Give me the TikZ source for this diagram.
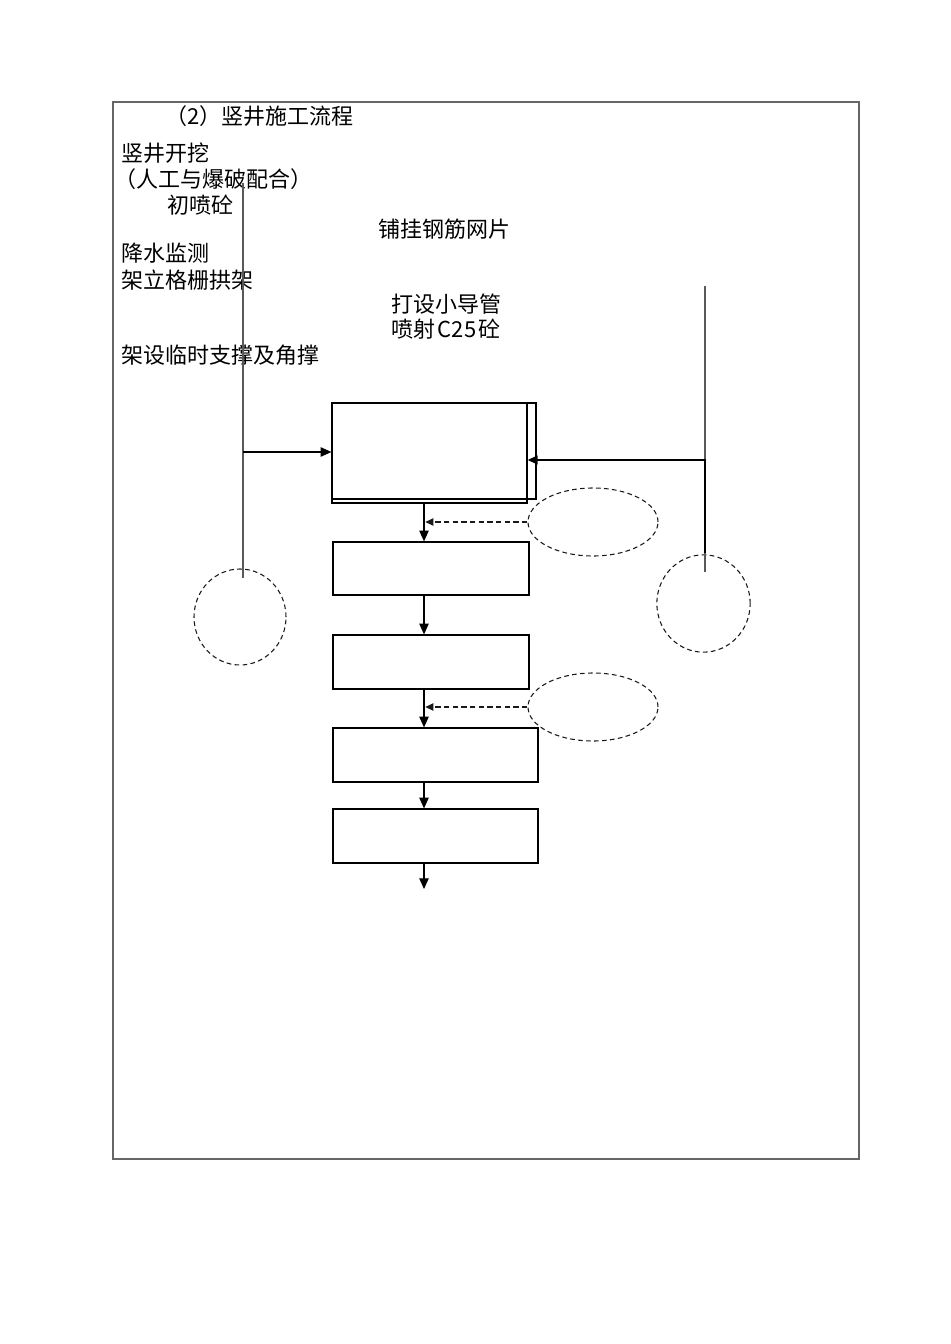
\documentclass[tikz,border=0pt]{standalone}
\usepackage{fontspec}
\setmainfont{Noto Sans CJK SC}
\usetikzlibrary{arrows.meta,fit,shapes.geometric}
\begin{document}
\begin{tikzpicture}[x=0.75pt,y=-0.75pt,
  txt/.style={anchor=west,inner sep=0pt,font=\fontsize{16.5}{18}\selectfont},
  frame/.style={draw=black!60,line width=0.8pt,inner sep=0pt},
  flowbox/.style={draw=black,line width=0.9pt,inner sep=0pt},
  thinline/.style={draw=black!65,line width=0.8pt},
  flow/.style={draw=black,line width=0.9pt,-{Triangle[length=8pt,width=7pt]}},
  thickflow/.style={draw=black,line width=1.4pt,-{Triangle[length=7.5pt,width=6.5pt]}},
  dflow/.style={draw=black!90,line width=0.9pt,dash pattern=on 4pt off 2.5pt,-{Triangle[length=6pt,width=5.5pt]}},
  dashring/.style={draw=black!90,line width=0.8pt,dash pattern=on 3.5pt off 2.5pt,ellipse,inner sep=0pt}]
\useasboundingbox (0,0) rectangle (950,1344);
% outer frame
\node[frame,fit={(113,102)(859,1159)}] (frm) {};
% texts
\node[txt,anchor=east] (title) at (354,116) {（2）竖井施工流程};
\node[txt] (t1) at (121,153) {竖井开挖};
\node[txt] (t2) at (114,179) {（人工与爆破配合）};
\node[txt] (t3) at (167,205) {初喷砼};
\node[txt] (t4) at (378,229) {铺挂钢筋网片};
\node[txt] (t5) at (121,253) {降水监测};
\node[txt] (t6) at (121,280) {架立格栅拱架};
\node[txt] (t7) at (391,304) {打设小导管};
\node[txt] (t8) at (391,329) {喷射\hspace{0.12em}C25\hspace{0.12em}砼};
\node[txt] (t9) at (121,355) {架设临时支撑及角撑};
% boxes
\node[flowbox,fit={(332,403)(527,503)}] (b1) {};
\node[flowbox,fit={(332,403)(536,499)}] (b1b) {};
\node[flowbox,fit={(333,542)(529,595)}] (b2) {};
\node[flowbox,fit={(333,635)(529,689)}] (b3) {};
\node[flowbox,fit={(333,728)(538,782)}] (b4) {};
\node[flowbox,fit={(333,809)(538,863)}] (b5) {};
% dashed circles and ellipses
\node[dashring,minimum width=69pt,minimum height=72pt] (c1) at (240,617) {};
\node[dashring,minimum width=70pt,minimum height=73pt] (c2) at (703.5,603.5) {};
\node[dashring,minimum width=97.5pt,minimum height=51pt] (e1) at (593,522) {};
\node[dashring,minimum width=97.5pt,minimum height=51pt] (e2) at (593,707) {};
% coordinates
\coordinate (cx) at (424,0);
\coordinate (lt) at (243,183);
\coordinate (lb) at (243,578);
\coordinate (lj) at (243,452);
\coordinate (rt) at (705,286);
\coordinate (rb) at (705,572);
\coordinate (rj) at (705,460);
\coordinate (rk) at (705,553);
\coordinate (fin) at (424,889);
% side lines
\draw[thinline] (lt) -- (lb);
\draw[flow] (lj) -- (lj -| b1.west);
\draw[thinline] (rt) -- (rb);
\draw[thickflow] (rk) -- (rj) -- (rj -| b1.east);
% main flow
\draw[flow] (b1.south -| cx) -- (b2.north -| cx);
\draw[flow] (b2.south -| cx) -- (b3.north -| cx);
\draw[flow] (b3.south -| cx) -- (b4.north -| cx);
\draw[flow] (b4.south -| cx) -- (b5.north -| cx);
\draw[flow] (b5.south -| cx) -- (fin);
% dashed feeds
\draw[dflow] (e1.west) -- ([xshift=1pt]e1.west -| cx);
\draw[dflow] (e2.west) -- ([xshift=1pt]e2.west -| cx);
\end{tikzpicture}
\end{document}
